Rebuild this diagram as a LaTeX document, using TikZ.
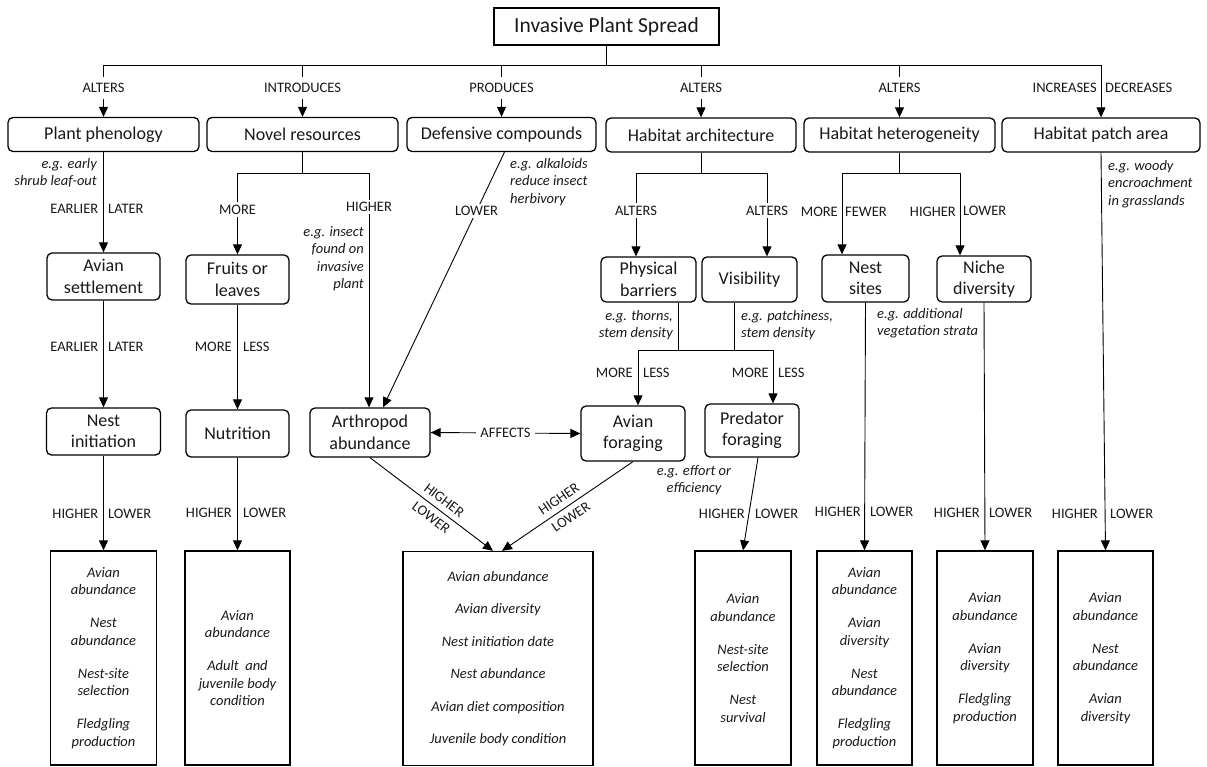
\documentclass[tikz,border=0pt]{standalone}
\usepackage{fontspec}
\setmainfont{Carlito}
\usetikzlibrary{arrows.meta,calc}
\begin{document}
\begin{tikzpicture}[x=1pt,y=-1pt,
  every node/.style={text=black!90},
  box/.style={draw, line width=1.3pt, rounded corners=5pt, inner sep=0pt, align=center, font=\fontsize{18}{21.5}\selectfont},
  tbox/.style={draw, line width=1.3pt, inner sep=0pt, align=center, font=\fontsize{21.5}{25}\selectfont},
  obox/.style={draw, line width=1.3pt, inner sep=0pt, align=center, font=\fontsize{14.5}{17.5}\selectfont\itshape, minimum height=214pt},
  lbl/.style={inner sep=0pt, font=\fontsize{14.5}{17}\selectfont},
  cut/.style={lbl, fill=white, inner xsep=1pt, inner ysep=2.5pt},
  topcut/.style={lbl, fill=white, inner xsep=1pt, inner ysep=6pt},
  note/.style={inner sep=0pt, font=\fontsize{14.5}{17.5}\selectfont\itshape},
  con/.style={line width=0.9pt},
  arr/.style={con, -{Triangle[length=10pt,width=9pt]}},
  darr/.style={con, {Triangle[length=10pt,width=9pt]}-{Triangle[length=10pt,width=9pt]}},
]
\useasboundingbox (0,0) rectangle (1207,766);

% title and first level
\node[tbox, minimum width=225pt, minimum height=37pt] (T) at (606.5,26.5) {Invasive Plant Spread};
\node[box, minimum width=191pt, minimum height=34pt] (PP) at (103.5,134.5) {Plant phenology};
\node[box, minimum width=191pt, minimum height=34pt] (NR) at (302.5,134.5) {Novel resources};
\node[box, minimum width=189pt, minimum height=34pt] (DC) at (501.5,134.5) {Defensive compounds};
\node[box, minimum width=190pt, minimum height=34pt] (HA) at (701,135) {Habitat architecture};
\node[box, minimum width=191pt, minimum height=34pt] (HH) at (899.5,135) {Habitat heterogeneity};
\node[box, minimum width=198pt, minimum height=34pt] (HP) at (1101,135) {Habitat patch area};

% second level
\node[box, minimum width=113pt, minimum height=47pt] (AS) at (103.5,276.5) {Avian\\settlement};
\node[box, minimum width=103pt, minimum height=49pt] (FL) at (237.5,279.5) {Fruits or\\leaves};
\node[box, minimum width=95pt, minimum height=45pt] (PB) at (648.5,279.5) {Physical\\barriers};
\node[box, minimum width=95pt, minimum height=45pt] (VI) at (749.5,279.5) {Visibility};
\node[box, minimum width=87pt, minimum height=47pt] (NS) at (865.5,278.5) {Nest\\sites};
\node[box, minimum width=94pt, minimum height=46pt] (ND) at (984,279) {Niche\\diversity};

% third level
\node[box, minimum width=114pt, minimum height=47pt] (NI) at (103.5,431.5) {Nest\\initiation};
\node[box, minimum width=103pt, minimum height=47pt] (NU) at (237.5,433.5) {Nutrition};
\node[box, minimum width=120pt, minimum height=49pt] (AA) at (370,432.5) {Arthropod\\abundance};
\node[box, minimum width=104pt, minimum height=55pt] (AF) at (633,433.5) {Avian\\foraging};
\node[box, minimum width=94pt, minimum height=53pt] (PF) at (752,430.5) {Predator\\foraging};

% outcomes
\node[obox, minimum width=106pt] (O1) at (103.5,658) {Avian\\abundance\\[15.5pt]Nest\\abundance\\[15.5pt]Nest-site\\selection\\[15.5pt]Fledgling\\production};
\node[obox, minimum width=105pt] (O2) at (237.5,658) {Avian\\abundance\\[15.5pt]Adult\ \ and\\juvenile body\\condition};
\node[obox, minimum width=190pt] (O3) at (498,658.5) {Avian abundance\\[15pt]Avian diversity\\[15pt]Nest initiation date\\[15pt]Nest abundance\\[15pt]Avian diet composition\\[15pt]Juvenile body condition};
\node[obox, minimum width=96pt] (O4) at (743,658) {Avian\\abundance\\[15.5pt]Nest-site\\selection\\[15.5pt]Nest\\survival};
\node[obox, minimum width=95pt] (O5) at (864.5,658) {Avian\\abundance\\[15.5pt]Avian\\diversity\\[15.5pt]Nest\\abundance\\[15.5pt]Fledgling\\production};
\node[obox, minimum width=96pt] (O6) at (985,658) {Avian\\abundance\\[15.5pt]Avian\\diversity\\[15.5pt]Fledgling\\production};
\node[obox, minimum width=95pt] (O7) at (1105.5,658) {Avian\\abundance\\[15.5pt]Nest\\abundance\\[15.5pt]Avian\\diversity};

% top bar
\coordinate (bar) at (0,65);
\draw[con] (T.south) -- (T.south |- bar);
\draw[con] (PP.north |- bar) -- (HP.north |- bar);
\draw[arr] (PP.north |- bar) -- (PP.north) node[topcut, pos=0.44] {ALTERS};
\draw[arr] (NR.north |- bar) -- (NR.north) node[topcut, pos=0.44] {INTRODUCES};
\draw[arr] (DC.north |- bar) -- (DC.north) node[topcut, pos=0.44] {PRODUCES};
\draw[arr] (HA.north |- bar) -- (HA.north) node[topcut, pos=0.44] {ALTERS};
\draw[arr] (HH.north |- bar) -- (HH.north) node[topcut, pos=0.44] {ALTERS};
\draw[arr] (HP.north |- bar) -- (HP.north);
\node[lbl, anchor=east] (inc) at (1097,88) {INCREASES};
\node[lbl, anchor=west] (dec) at (1105,88) {DECREASES};

% plant phenology branch
\draw[arr] (PP.south) -- (AS.north);
\node[note, anchor=north east, align=right] (n1) at (97,158) {e.g. early\\shrub leaf-out};
\node[lbl, anchor=east] (e1) at (98.5,209) {EARLIER};
\node[lbl, anchor=west] (l1) at (108,209) {LATER};
\draw[arr] (AS.south) -- (NI.north);
\node[lbl, anchor=east] (e2) at (98.5,347) {EARLIER};
\node[lbl, anchor=west] (l2) at (108,347) {LATER};
\draw[arr] (NI.south) -- (O1.north);
\node[lbl, anchor=east] (h1) at (98.5,514) {HIGHER};
\node[lbl, anchor=west] (w1) at (108,514) {LOWER};

% novel resources branch
\coordinate (nrL) at (237.5,173);
\coordinate (nrR) at (369,173);
\draw[con] (NR.south) -- (NR.south |- nrL);
\draw[con] (nrL) -- (nrR);
\draw[arr] (nrL) -- (FL.north) node[cut, pos=0.45] {MORE};
\draw[arr] (nrR) -- (nrR |- AA.north) node[cut, pos=0.145] {HIGHER};
\node[note, anchor=north east, align=right] (n2) at (364,226) {e.g. insect\\found on\\invasive\\plant};
\draw[arr] (FL.south) -- (NU.north);
\node[lbl, anchor=east] (m2) at (232,347) {MORE};
\node[lbl, anchor=west] (s2) at (243,347) {LESS};
\draw[arr] (NU.south) -- (O2.north);
\node[lbl, anchor=east] (h2) at (232,513) {HIGHER};
\node[lbl, anchor=west] (w2) at (243,513) {LOWER};

% defensive compounds
\draw[arr] ([xshift=3pt]DC.south) -- ([xshift=13pt]AA.north) node[cut, pos=0.23] {LOWER};
\node[note, anchor=north west, align=left] (n3) at (510,158) {e.g. alkaloids\\reduce insect\\herbivory};

% habitat architecture branch
\coordinate (haL) at (636,173);
\coordinate (haR) at (767,173);
\draw[con] (HA.south) -- (HA.south |- haL);
\draw[con] (haL) -- (haR);
\draw[arr] (haL) -- (haL |- PB.north) node[cut, pos=0.45] {ALTERS};
\draw[arr] (haR) -- (haR |- VI.north) node[cut, pos=0.45] {ALTERS};
\coordinate (pbJ) at (678,350);
\coordinate (viJ) at (734,350);
\coordinate (fL) at (638,350);
\coordinate (fR) at (773,350);
\draw[con] (pbJ |- PB.south) -- (pbJ);
\draw[con] (viJ |- VI.south) -- (viJ);
\draw[con] (fL) -- (fR);
\draw[arr] (fL) -- (fL |- AF.north);
\draw[arr] (fR) -- (fR |- PF.north);
\node[note, anchor=north east, align=right] (n4) at (673,310) {e.g. thorns,\\stem density};
\node[note, anchor=north west, align=left] (n5) at (741,310) {e.g. patchiness,\\stem density};
\node[lbl, anchor=east] (m3) at (633,373) {MORE};
\node[lbl, anchor=west] (s3) at (643,373) {LESS};
\node[lbl, anchor=east] (m4) at (769,373) {MORE};
\node[lbl, anchor=west] (s4) at (778,373) {LESS};

% affects
\draw[darr] (AA.east) -- (AF.west) node[cut, inner xsep=4pt, midway] {AFFECTS};

% diagonals to middle outcome box
\draw[arr] (AA.south) -- ([xshift=-5pt]O3.north)
  node[lbl, sloped, above=5.5pt, pos=0.55] {HIGHER}
  node[lbl, sloped, below=5.5pt, pos=0.55] {LOWER};
\draw[arr] (AF.south) -- ([xshift=4pt]O3.north)
  node[lbl, sloped, above=5.5pt, pos=0.52] {HIGHER}
  node[lbl, sloped, below=5.5pt, pos=0.52] {LOWER};

% predator foraging
\node[note, anchor=north, align=center] (n6) at (694,465) {e.g. effort or\\efficiency};
\draw[arr] ([xshift=6pt]PF.south) -- (O4.north);
\node[lbl, anchor=east] (h4) at (745,514) {HIGHER};
\node[lbl, anchor=west] (w4) at (755,514) {LOWER};

% habitat heterogeneity branch
\coordinate (hhL) at (842,173);
\coordinate (hhR) at (960,173);
\draw[con] (HH.south) -- (HH.south |- hhL);
\draw[con] (hhL) -- (hhR);
\draw[arr] (hhL) -- (hhL |- NS.north);
\draw[arr] (hhR) -- (hhR |- ND.north);
\node[lbl, anchor=east] (m5) at (838,212) {MORE};
\node[lbl, anchor=west] (f5) at (845,212) {FEWER};
\node[lbl, anchor=east] (h5) at (956,212) {HIGHER};
\node[lbl, anchor=west] (w5) at (963,211) {LOWER};
\node[note, anchor=north west, align=left] (n7) at (877,308) {e.g. additional\\vegetation strata};
\draw[arr] (NS.south) -- (O5.north);
\node[lbl, anchor=east] (h6) at (861,512) {HIGHER};
\node[lbl, anchor=west] (w6) at (870,512) {LOWER};
\draw[arr] (ND.south) -- (O6.north);
\node[lbl, anchor=east] (h7) at (980,513) {HIGHER};
\node[lbl, anchor=west] (w7) at (989,513) {LOWER};

% habitat patch area
\draw[arr] (HP.south) -- (O7.north);
\node[note, anchor=north west, align=left] (n8) at (1108,160) {e.g. woody\\encroachment\\in grasslands};
\node[lbl, anchor=east] (h8) at (1098,514) {HIGHER};
\node[lbl, anchor=west] (w8) at (1110,514) {LOWER};
\end{tikzpicture}
\end{document}
